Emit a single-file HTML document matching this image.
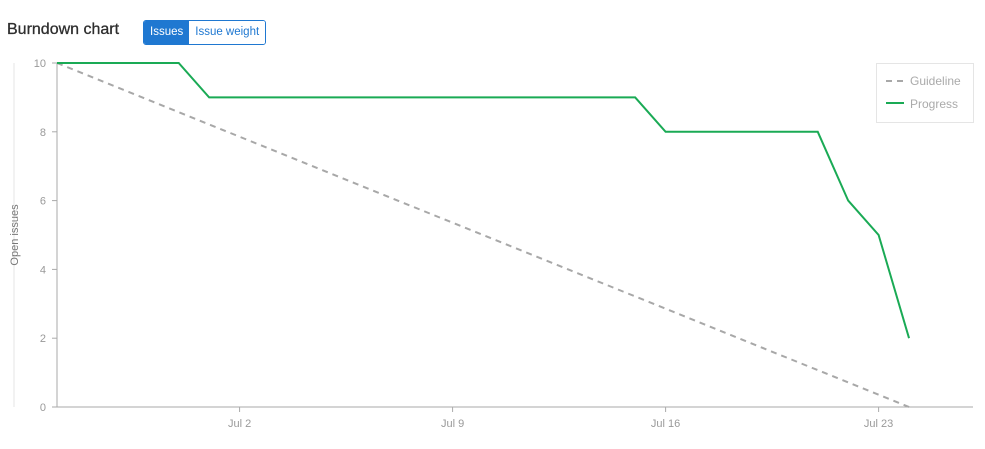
<!DOCTYPE html>
<html><head><meta charset="utf-8"><style>
body{margin:0;width:985px;height:449px;background:#fff;font-family:"Liberation Sans","DejaVu Sans",sans-serif;overflow:hidden;position:relative}
.title{position:absolute;left:7px;top:21px;font-size:16px;color:#2e2e2e;font-weight:500;-webkit-text-stroke:0.3px #2e2e2e}
.btns{position:absolute;left:143px;top:20px;display:flex;height:23px;border:1px solid #1f78d1;border-radius:3px;overflow:hidden;font-size:11.5px}
.btns div{padding:0 6px;line-height:23px}
.b1{background:#1f78d1;color:#fff}.b2{color:#1f78d1;background:#fff}
</style></head><body>
<div class="title">Burndown chart</div>
<div class="btns"><div class="b1">Issues</div><div class="b2">Issue weight</div></div>
<svg id="c" width="985" height="449" style="position:absolute;left:0;top:0"></svg>
<script>
const yTicks=[0,2,4,6,8,10];
const xTickDays=[6,13,20,27];
const xTickLabels=["Jul 2","Jul 9","Jul 16","Jul 23"];
const progDays=[0,4,5,19,20,25,26,27,28];
const progValues=[10,10,9,9,8,8,6,5,2];
const guideDays=[0,28];
const guideValues=[10,0];
const x=d=>57+d*30.43;
const y=v=>407-v*34.4;
const svg=document.getElementById('c');const NS='http://www.w3.org/2000/svg';
function mk(t,a,p){const e=document.createElementNS(NS,t);for(const k in a)e.setAttribute(k,a[k]);(p||svg).appendChild(e);return e;}
let e;
e=mk('line',{x1:14,y1:63,x2:14,y2:407,stroke:'#e5e5e5'});


e=mk('text',{x:0,y:0,transform:'translate(18,235) rotate(-90)','text-anchor':'middle','font-size':11,fill:'#777'});e.textContent='Open issues';


e=mk('line',{x1:57,y1:63,x2:57,y2:407,stroke:'#aaa'});


e=mk('line',{x1:57,y1:407,x2:973,y2:407,stroke:'#aaa'});


yTicks.forEach(v=>{mk('line',{x1:52,y1:y(v),x2:57,y2:y(v),stroke:'#aaa'});
e=mk('text',{x:46,y:y(v)+4,'text-anchor':'end','font-size':11,fill:'#999'});e.textContent=v;

});
xTickDays.forEach((d,i)=>{mk('line',{x1:x(d),y1:407,x2:x(d),y2:412,stroke:'#aaa'});
e=mk('text',{x:x(d),y:427,'text-anchor':'middle','font-size':11,fill:'#999'});e.textContent=xTickLabels[i];

});
e=mk('polyline',{points:guideDays.map((d,i)=>x(d)+','+y(guideValues[i])).join(' '),fill:'none',stroke:'#a8a8a8','stroke-width':2,'stroke-dasharray':'6,5'});


e=mk('polyline',{points:progDays.map((d,i)=>x(d)+','+y(progValues[i])).join(' '),fill:'none',stroke:'#1aaa55','stroke-width':2});


const g=mk('g',{});


mk('rect',{x:876.5,y:63.5,width:97,height:59,fill:'#fff',stroke:'#e5e5e5'},g);
mk('line',{x1:886,y1:81,x2:904,y2:81,stroke:'#a8a8a8','stroke-width':2,'stroke-dasharray':'6,5'},g);
e=mk('text',{x:910,y:85,'font-size':12,fill:'#aaa'},g);e.textContent='Guideline';


mk('line',{x1:886,y1:103,x2:904,y2:103,stroke:'#1aaa55','stroke-width':2},g);
e=mk('text',{x:910,y:108,'font-size':12,fill:'#aaa'},g);e.textContent='Progress';


</script>
</body></html>
